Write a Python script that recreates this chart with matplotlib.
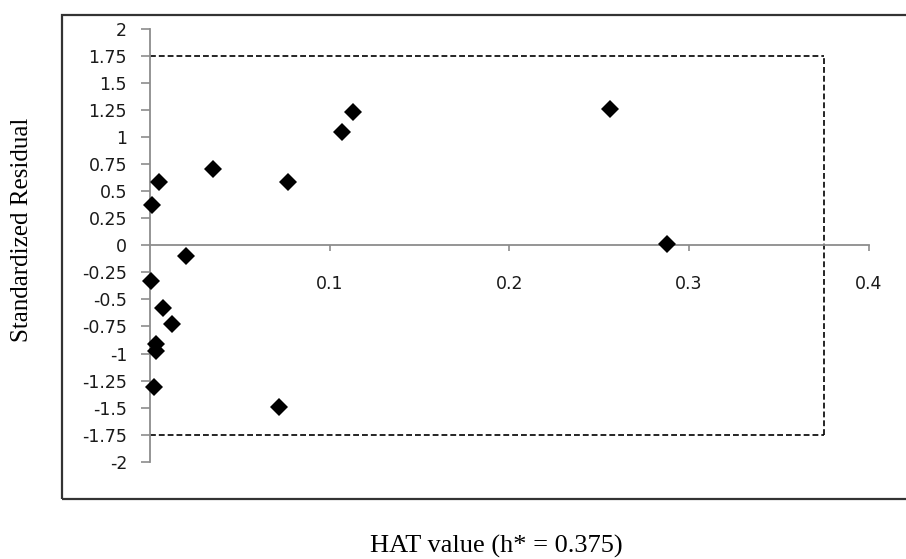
import matplotlib
matplotlib.use("Agg")
import matplotlib.pyplot as plt
from matplotlib.patches import Rectangle

# Data (HAT value vs standardized residual)
hat_values = [0.001, 0.005, 0.035, 0.077, 0.107, 0.113, 0.256, 0.2875,
              0.020, 0.0006, 0.0074, 0.0124, 0.0033, 0.0033, 0.0024, 0.0718]
std_residuals = [0.37, 0.59, 0.71, 0.59, 1.05, 1.23, 1.257, 0.01,
                 -0.096, -0.33, -0.577, -0.73, -0.915, -0.977, -1.307, -1.49]

h_star = 0.375
resid_limit = 1.75

x_ticks = [0.1, 0.2, 0.3, 0.4]
x_tick_labels = ["0.1", "0.2", "0.3", "0.4"]
y_ticks = [2, 1.75, 1.5, 1.25, 1, 0.75, 0.5, 0.25, 0, -0.25, -0.5, -0.75,
           -1, -1.25, -1.5, -1.75, -2]
y_tick_labels = ["2", "1.75", "1.5", "1.25", "1", "0.75", "0.5", "0.25", "0",
                 "-0.25", "-0.5", "-0.75", "-1", "-1.25", "-1.5", "-1.75", "-2"]

W, H = 906, 559
fig = plt.figure(figsize=(W / 100, H / 100), dpi=100)
fig.patch.set_facecolor("white")

# axes placement in pixels
x0_px, x1_px = 150, 868.7
ytop_px, ybot_px = 29, 461.7
ax = fig.add_axes([x0_px / W, 1 - ybot_px / H, (x1_px - x0_px) / W, (ybot_px - ytop_px) / H])
ax.set_xlim(0, 0.4)
ax.set_ylim(-2, 2)
ax.patch.set_alpha(0)

axis_color = "#8c8c8c"
for s in ["top", "right"]:
    ax.spines[s].set_visible(False)
ax.spines["bottom"].set_position(("data", 0))
ax.spines["left"].set_position(("data", 0))
for s in ["bottom", "left"]:
    ax.spines[s].set_color(axis_color)
    ax.spines[s].set_linewidth(1.3)

ax.set_xticks(x_ticks)
ax.set_xticklabels(x_tick_labels)
ax.set_yticks(y_ticks)
ax.set_yticklabels(y_tick_labels)
ax.tick_params(axis="x", direction="out", length=4.5, width=1.2, color=axis_color,
               pad=17, labelsize=12.5, labelcolor="#1a1a1a")
ax.tick_params(axis="y", direction="out", length=6.5, width=1.2, color=axis_color,
               pad=10, labelsize=12.5, labelcolor="#1a1a1a")
for lbl in ax.get_xticklabels() + ax.get_yticklabels():
    lbl.set_family("DejaVu Sans")

# dashed limit box
dash_kw = dict(color="black", linestyle=(0, (3.5, 1.8)), linewidth=1.2, zorder=2)
ax.plot([0, h_star], [resid_limit, resid_limit], **dash_kw)
ax.plot([0, h_star], [-resid_limit, -resid_limit], **dash_kw)
ax.plot([h_star, h_star], [-resid_limit, resid_limit], **dash_kw)

# points
ax.plot(hat_values, std_residuals, linestyle="none", marker="D", markersize=8.8,
        color="black", markeredgewidth=0, zorder=3, clip_on=False)

# outer chart border
fig.add_artist(Rectangle((62 / W, 1 - 499 / H), (W + 20 - 62) / W, (499 - 15) / H,
                         transform=fig.transFigure, fill=False,
                         edgecolor="#333333", linewidth=1.6, clip_on=False))

# axis titles
fig.text(22 / W, 1 - 230 / H, "Standardized Residual", rotation=90,
         ha="center", va="center", fontsize=18, family="Liberation Serif", color="black")
fig.text(496.5 / W, 1 - 546 / H, "HAT value (h* = 0.375)",
         ha="center", va="center", fontsize=19, family="Liberation Serif", color="black")

fig.savefig("out.png", dpi=100)
